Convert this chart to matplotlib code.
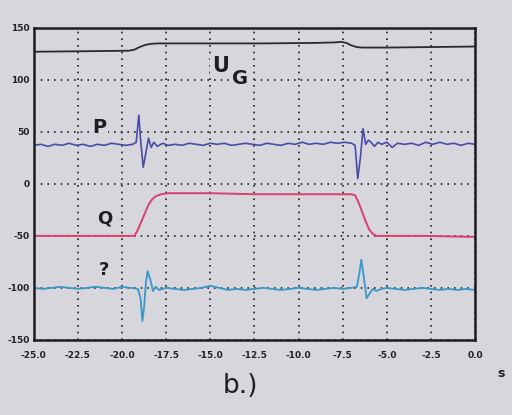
import matplotlib
matplotlib.use("Agg")
import matplotlib.pyplot as plt

# ---- data ----
ug_t = [-25, -22, -19.6, -19.3, -19.0, -18.7, -18.4, -18.0, -15, -12, -9, -7.9, -7.6, -7.3, -7.0, -6.7, -6.4, -5, -2.5, 0]
ug_v = [127, 127.5, 128, 129, 131.5, 133.5, 134.5, 135, 135, 135, 135.5, 136, 136.5, 135.5, 133, 131.5, 131, 131, 131.5, 132]

p_t = [-25.0, -24.6, -24.2, -23.8, -23.4, -23.0, -22.6, -22.2, -21.8, -21.4,
       -21.0, -20.6, -20.2, -19.8, -19.4, -19.2, -19.05, -18.95, -18.8, -18.65,
       -18.5, -18.35, -18.2, -18.0, -17.7, -17.4, -17.0, -16.6, -16.2, -15.8,
       -15.4, -15.0, -14.6, -14.2, -13.8, -13.4, -13.0, -12.6, -12.2, -11.8,
       -11.4, -11.0, -10.6, -10.2, -9.8, -9.4, -9.0, -8.6, -8.2, -7.8,
       -7.4, -7.0, -6.8, -6.65, -6.5, -6.35, -6.2, -6.05, -5.9, -5.7,
       -5.5, -5.3, -5.0, -4.7, -4.4, -4.0, -3.6, -3.2, -2.8, -2.4,
       -2.0, -1.6, -1.2, -0.8, -0.4, 0.0]
p_v = [37, 38, 36, 38, 37, 39, 37, 38, 36, 38,
       37, 39, 38, 37, 38, 40, 66, 42, 16, 30,
       44, 35, 40, 36, 39, 37, 38, 37, 39, 38,
       37, 39, 38, 39, 37, 38, 39, 38, 37, 39,
       38, 37, 39, 38, 40, 38, 39, 38, 40, 39,
       40, 39, 37, 5, 25, 53, 38, 42, 40, 36,
       40, 38, 40, 35, 39, 38, 39, 37, 40, 38,
       40, 38, 39, 37, 39, 38]

q_t = [-25, -22, -19.3, -19.1, -18.9, -18.7, -18.5, -18.3, -18.1, -17.8, -17.4, -17.0, -15, -12.5, -10, -8, -7.0, -6.8, -6.6, -6.4, -6.2, -6.0, -5.8, -5.6, -3, 0]
q_v = [-50, -50, -50, -44, -36, -28, -20, -15, -12, -10, -9, -9, -9, -10, -10, -10, -10, -11, -18, -27, -36, -44, -48, -50, -50, -51]

x_t = [-25.0, -24.5, -24.0, -23.5, -23.0, -22.5, -22.0, -21.5, -21.0, -20.5,
       -20.0, -19.5, -19.1, -18.95, -18.85, -18.75, -18.65, -18.55, -18.4, -18.25,
       -18.1, -17.9, -17.5, -17.0, -16.5, -16.0, -15.5, -15.0, -14.5, -14.0,
       -13.5, -13.0, -12.5, -12.0, -11.5, -11.0, -10.5, -10.0, -9.5, -9.0,
       -8.5, -8.0, -7.5, -7.0, -6.7, -6.55, -6.45, -6.3, -6.15, -6.0,
       -5.8, -5.6, -5.3, -5.0, -4.5, -4.0, -3.5, -3.0, -2.5, -2.0,
       -1.5, -1.0, -0.5, 0.0]
x_v = [-100, -101, -100, -99, -100, -101, -100, -99, -100, -101,
       -99, -100, -101, -110, -132, -118, -95, -84, -92, -103,
       -99, -102, -100, -101, -102, -101, -100, -98, -100, -102,
       -101, -102, -101, -100, -101, -102, -101, -100, -101, -102,
       -101, -100, -101, -100, -99, -85, -73, -90, -110, -106,
       -101, -103, -101, -100, -101, -102, -101, -100, -101, -102,
       -101, -102, -101, -102]

x_ticks = [-25.0, -22.5, -20.0, -17.5, -15.0, -12.5, -10.0, -7.5, -5.0, -2.5, 0.0]
y_ticks = [150, 100, 50, 0, -50, -100, -150]

bg = "#d6d6dc"
fig = plt.figure(figsize=(5.12, 4.15), dpi=100, facecolor=bg)
ax = fig.add_axes([0.066, 0.181, 0.862, 0.752])
ax.set_facecolor(bg)

ax.plot(ug_t, ug_v, color="#2a2a2e", lw=1.3)
ax.plot(p_t, p_v, color="#4a4aa8", lw=1.2)
ax.plot(q_t, q_v, color="#d8406e", lw=1.4)
ax.plot(x_t, x_v, color="#3a98c8", lw=1.3)

ax.set_xlim(-25, 0)
ax.set_ylim(-150, 150)
ax.set_xticks(x_ticks)
ax.set_yticks(y_ticks)
ax.set_xticklabels([f"{v:.1f}" for v in x_ticks])
ax.set_yticklabels([str(v) for v in y_ticks])
ax.grid(True, color="#222222", linestyle=(0, (1, 3)), linewidth=1.2)
ax.tick_params(length=0, labelsize=6.5, pad=8, colors="#222222")
for lab in ax.get_xticklabels() + ax.get_yticklabels():
    lab.set_fontweight("bold")
ax.tick_params(axis="y", pad=3)
for s in ax.spines.values():
    s.set_linewidth(1.8)
    s.set_color("#1e1e22")

box = dict(facecolor=bg, edgecolor="none", pad=1.5)
ax.text(-14.4, 113, "U", fontsize=15, fontweight="bold", color="#1e1e22",
        ha="center", va="center", bbox=box)
ax.text(-13.3, 101, "G", fontsize=14, fontweight="bold", color="#1e1e22",
        ha="center", va="center", bbox=box)
ax.text(-21.3, 54, "P", fontsize=14, fontweight="bold", color="#1e1e22",
        ha="center", va="center", bbox=box)
ax.text(-21.0, -33, "Q", fontsize=13, fontweight="bold", color="#1e1e22",
        ha="center", va="center")
ax.text(-21.0, -83, "?", fontsize=13, fontweight="bold", color="#1e1e22",
        ha="center", va="center")

fig.text(0.972, 0.10, "s", fontsize=9, fontweight="bold", color="#222222",
         ha="left", va="center")
fig.text(0.47, 0.07, "b.)", fontsize=19, color="#1e1e22", ha="center", va="center")

fig.savefig("out.png", dpi=100, facecolor=bg)
